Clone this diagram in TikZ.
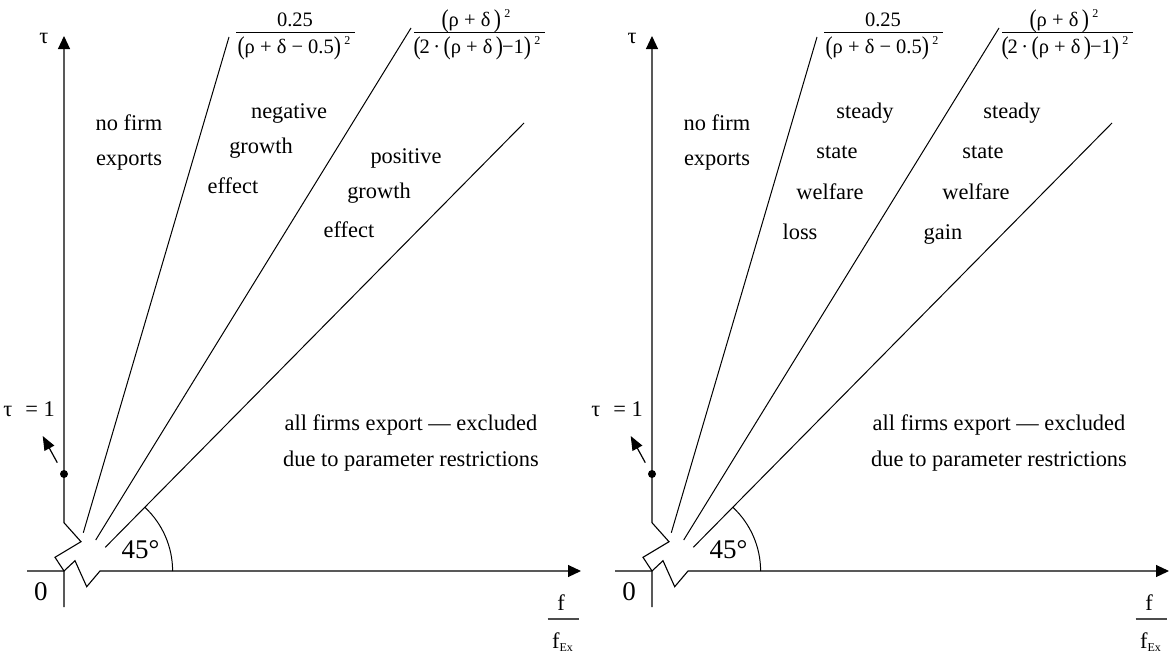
\documentclass[tikz,border=0pt]{standalone}
\usepackage{fontspec}
\setmainfont{Liberation Serif}
\usetikzlibrary{arrows.meta}
\newcommand{\bigpar}[1]{\raisebox{-1pt}{\scalebox{1.05}[1.25]{#1}}}
\newcommand{\sqidx}{\,\raisebox{9pt}{\fontsize{12}{12}\selectfont 2}}
\begin{document}
\begin{tikzpicture}[x=1pt,y=-1pt,
  lbl/.style={font=\fontsize{22.4}{26}\selectfont, inner sep=0pt, anchor=base},
  big/.style={font=\fontsize{27}{30}\selectfont, inner sep=0pt, anchor=base},
  frm/.style={font=\fontsize{20.5}{24}\selectfont, inner sep=0pt, anchor=base},
  ln/.style={line width=1pt},
  ax/.style={line width=1.1pt, -{Triangle[length=13pt,width=12pt]}},
  small arrow/.style={line width=1.2pt, -{Triangle[length=14pt,width=11pt]}},
]
\useasboundingbox (0,0) rectangle (1175,653);

\foreach \ox/\p in {0/L,588/R}{
\begin{scope}[xshift=\ox pt]
  % axes
  \coordinate (O\p) at (64,571);
  \coordinate (vb\p) at (64,607);
  \coordinate (v1\p) at (55,557.3);
  \coordinate (v2\p) at (81,541.7);
  \coordinate (v3\p) at (64,522.7);
  \coordinate (vt\p) at (64,36);
  \coordinate (hl\p) at (27,571);
  \coordinate (h1\p) at (75,560.7);
  \coordinate (h2\p) at (86.7,586.7);
  \coordinate (h3\p) at (100,571);
  \coordinate (hr\p) at (581,571);
  \draw[ax, line join=miter] (vb\p) -- (O\p) -- (v1\p) -- (v2\p) -- (v3\p) -- (vt\p);
  \draw[ax, line join=miter] (hl\p) -- (O\p) -- (h1\p) -- (h2\p) -- (h3\p) -- (hr\p);
  % rays
  \coordinate (r1a\p) at (83.3,532.7); \coordinate (r1b\p) at (229,37);
  \coordinate (r2a\p) at (95.7,540);   \coordinate (r2b\p) at (411,28);
  \coordinate (r3a\p) at (105.3,547.3); \coordinate (r3b\p) at (524,123);
  \draw[ln] (r1a\p) -- (r1b\p);
  \draw[ln] (r2a\p) -- (r2b\p);
  \draw[ln] (r3a\p) -- (r3b\p);
  % angle arc
  \draw[ln] (172.6,571) arc[start angle=0, end angle=-47, radius=87];
  \node[big] (ang\p) at (140.5,558.3) {45°};
  \node[big] (zero\p) at (41,600) {0};
  % tau = 1 marker
  \node[circle, fill, inner sep=0pt, minimum size=8pt] (dot\p) at (64,474) {};
  \coordinate (sa\p) at (57.3,462.7);
  \coordinate (sb\p) at (42.7,436);
  \draw[small arrow] (sa\p) -- (sb\p);
  \node[lbl, anchor=base east] (t1\p) at (55,416.7) {τ\,\, = 1};
  \node[lbl] (tau\p) at (44,43.3) {τ};
  % x-axis label
  \node[lbl] (fn\p) at (561,610) {f};
  \coordinate (fbl\p) at (547.7,619);
  \coordinate (fbr\p) at (579,619);
  \draw[line width=1.1pt, black!70] (fbl\p) -- (fbr\p);
  \node[lbl] (fd\p) at (562.5,648) {f\raisebox{-3pt}{\fontsize{12}{12}\selectfont Ex}};
  % formulas
  \node[frm] (n1\p) at (295,26.7) {0.25};
  \coordinate (b1l\p) at (236,32); \coordinate (b1r\p) at (355,32);
  \draw[ln] (b1l\p) -- (b1r\p);
  \node[frm] (d1\p) at (294,53.3) {\bigpar{(}ρ + δ − 0.5\bigpar{)}\sqidx};
  \node[frm] (n2\p) at (476,26.7) {\bigpar{(}ρ + δ\,\bigpar{)}\sqidx};
  \coordinate (b2l\p) at (414,32); \coordinate (b2r\p) at (545,32);
  \draw[ln] (b2l\p) -- (b2r\p);
  \node[frm] (d2\p) at (477,53.3) {\bigpar{(}\kern-1pt 2\,·\,\bigpar{(}ρ + δ\,\bigpar{)}\kern-1pt−1\bigpar{)}\sqidx};
  % common texts
  \node[lbl] (nf\p) at (129,130) {no firm};
  \node[lbl] (ex\p) at (129,165) {exports};
  \node[lbl] (all\p) at (411,430) {all firms export — excluded};
  \node[lbl] (due\p) at (411,466.7) {due to parameter restrictions};
\end{scope}
}
% left panel texts
\node[lbl] (neg) at (289,118.3) {negative};
\node[lbl] (gr1) at (261,153.3) {growth};
\node[lbl] (ef1) at (233,193.3) {effect};
\node[lbl] (pos) at (406,163.3) {positive};
\node[lbl] (gr2) at (379,198.3) {growth};
\node[lbl] (ef2) at (349,237.3) {effect};
% right panel texts
\node[lbl] (st1) at (865,118.3) {steady};
\node[lbl] (sa1) at (837,158.3) {state};
\node[lbl] (we1) at (830,199) {welfare};
\node[lbl] (lo) at (800,239.3) {loss};
\node[lbl] (st2) at (1012,118.3) {steady};
\node[lbl] (sa2) at (983,158.3) {state};
\node[lbl] (we2) at (976,199) {welfare};
\node[lbl] (ga) at (943,239.3) {gain};
\end{tikzpicture}
\end{document}
